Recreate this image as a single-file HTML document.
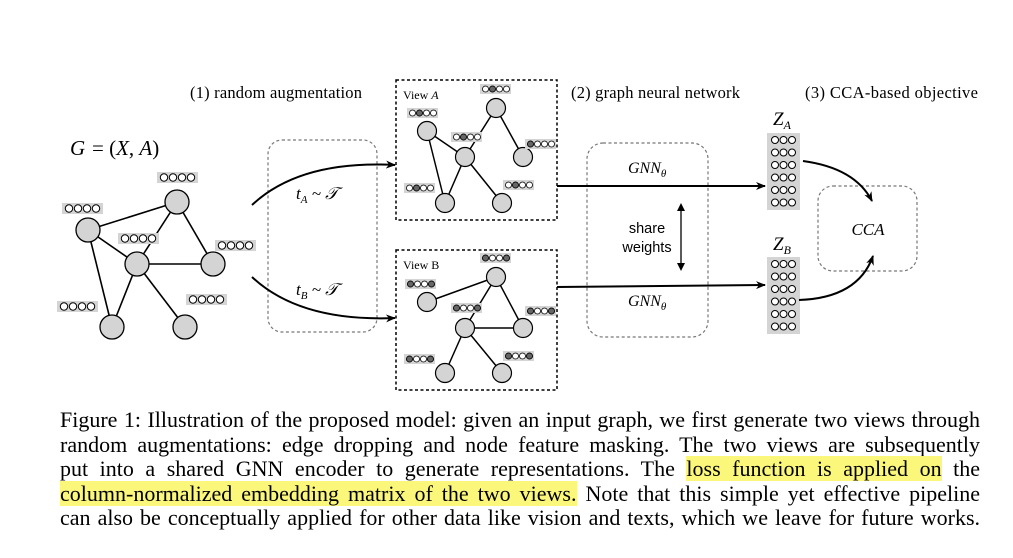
<!DOCTYPE html>
<html><head><meta charset="utf-8"><style>
body{margin:0;background:#fff;width:1013px;height:558px;overflow:hidden;position:relative}
svg{position:absolute;left:0;top:0}
.cap{position:absolute;left:60px;top:408px;width:920px;font-family:"Liberation Serif",serif;font-size:22px;line-height:24.5px;color:#000}
.cap div{text-align:justify;text-align-last:justify;white-space:nowrap}
.hl{background:#fbf77a}
</style></head><body>
<svg width="1013" height="558" viewBox="0 0 1013 558" font-family="Liberation Serif, serif">
<defs>
<g id="lab"><rect x="0" y="0" width="41" height="11" fill="#d4d4d4"/><g fill="#fff" stroke="#000" stroke-width="1"><circle cx="7" cy="5.5" r="3.7"/><circle cx="16" cy="5.5" r="3.7"/><circle cx="25" cy="5.5" r="3.7"/><circle cx="34" cy="5.5" r="3.7"/></g></g>
<g id="sl"><rect x="0" y="0" width="31" height="10" fill="#d4d4d4"/><g fill="#fff" stroke="#000" stroke-width="0.8"><circle cx="5.5" cy="5" r="3"/><circle cx="12.5" cy="5" r="3"/><circle cx="19.5" cy="5" r="3"/><circle cx="26.5" cy="5" r="3"/></g></g>
<g id="mat"><rect x="0" y="0" width="33" height="77" fill="#d4d4d4"/><g fill="#fff" stroke="#000" stroke-width="1">
<circle cx="8" cy="7" r="3.5"/><circle cx="16.5" cy="7" r="3.5"/><circle cx="25" cy="7" r="3.5"/>
<circle cx="8" cy="19.5" r="3.5"/><circle cx="16.5" cy="19.5" r="3.5"/><circle cx="25" cy="19.5" r="3.5"/>
<circle cx="8" cy="32" r="3.5"/><circle cx="16.5" cy="32" r="3.5"/><circle cx="25" cy="32" r="3.5"/>
<circle cx="8" cy="44.5" r="3.5"/><circle cx="16.5" cy="44.5" r="3.5"/><circle cx="25" cy="44.5" r="3.5"/>
<circle cx="8" cy="57" r="3.5"/><circle cx="16.5" cy="57" r="3.5"/><circle cx="25" cy="57" r="3.5"/>
<circle cx="8" cy="69.5" r="3.5"/><circle cx="16.5" cy="69.5" r="3.5"/><circle cx="25" cy="69.5" r="3.5"/></g></g>
<marker id="ah" markerWidth="10" markerHeight="8" refX="9" refY="4" orient="auto" markerUnits="userSpaceOnUse"><path d="M0,0 L10,4 L0,8 L3,4 z" fill="#000"/></marker>
</defs>

<g font-size="16.5" fill="#000">
<text x="190" y="98" textLength="172">(1) random augmentation</text>
<text x="571" y="98" textLength="169">(2) graph neural network</text>
<text x="805" y="98" textLength="173">(3) CCA-based objective</text>
</g>
<text x="70" y="155" font-size="21" font-style="italic">G</text><text x="92" y="155" font-size="21">= (<tspan font-style="italic">X</tspan>, <tspan font-style="italic">A</tspan>)</text>

<g stroke="#000" stroke-width="1.6">
<line x1="88" y1="230" x2="177" y2="202"/><line x1="88" y1="230" x2="137" y2="264"/><line x1="88" y1="230" x2="112" y2="327"/>
<line x1="177" y1="202" x2="137" y2="264"/><line x1="177" y1="202" x2="213" y2="264"/><line x1="137" y1="264" x2="213" y2="264"/>
<line x1="137" y1="264" x2="112" y2="327"/><line x1="137" y1="264" x2="185" y2="327"/>
</g>
<g fill="#d4d4d4" stroke="#000" stroke-width="1.3">
<circle cx="88" cy="230" r="12"/><circle cx="177" cy="202" r="12"/><circle cx="137" cy="264" r="12"/><circle cx="213" cy="264" r="12"/><circle cx="112" cy="327" r="12"/><circle cx="185" cy="327" r="12"/>
</g>
<use href="#lab" x="62" y="203"/><use href="#lab" x="157" y="172"/><use href="#lab" x="118" y="233"/><use href="#lab" x="215" y="240"/><use href="#lab" x="57" y="301"/><use href="#lab" x="186" y="294"/>

<rect x="268" y="140" width="109" height="192" rx="14" fill="none" stroke="#777" stroke-width="1.2" stroke-dasharray="3,2.5"/>
<path d="M252,205 Q300,160 395,165" fill="none" stroke="#000" stroke-width="2" marker-end="url(#ah)"/>
<path d="M252,277 Q300,322 395,318" fill="none" stroke="#000" stroke-width="2" marker-end="url(#ah)"/>
<text x="296" y="199" font-size="17" font-style="italic">t<tspan font-size="11" dy="4">A</tspan><tspan dy="-4"> ~ 𝒯</tspan></text>
<text x="296" y="295" font-size="17" font-style="italic">t<tspan font-size="11" dy="4">B</tspan><tspan dy="-4"> ~ 𝒯</tspan></text>

<rect x="396" y="80" width="161" height="140" fill="none" stroke="#000" stroke-width="1.5" stroke-dasharray="3,2.5"/>
<text x="403" y="99" font-size="12">View <tspan font-style="italic">A</tspan></text>
<g stroke="#000" stroke-width="1.5">
<line x1="496" y1="108" x2="465" y2="157"/><line x1="496" y1="108" x2="523" y2="157"/><line x1="427" y1="131" x2="465" y2="157"/><line x1="427" y1="131" x2="445" y2="203"/><line x1="465" y1="157" x2="445" y2="203"/><line x1="465" y1="157" x2="502" y2="203"/>
</g>
<g fill="#d4d4d4" stroke="#000" stroke-width="1.2">
<circle cx="496" cy="108" r="9.5"/><circle cx="427" cy="131" r="9.5"/><circle cx="465" cy="157" r="9.5"/><circle cx="523" cy="157" r="9.5"/><circle cx="445" cy="203" r="9.5"/><circle cx="502" cy="203" r="9.5"/>
</g>
<use href="#sl" x="480" y="84"/><use href="#sl" x="407" y="108"/><use href="#sl" x="451" y="132"/><use href="#sl" x="525" y="139"/><use href="#sl" x="404" y="183"/><use href="#sl" x="503" y="180"/>
<g fill="#666" stroke="#000" stroke-width="0.8">
<circle cx="492.5" cy="89" r="3"/><circle cx="419.5" cy="113" r="3"/><circle cx="463.5" cy="137" r="3"/><circle cx="530.5" cy="144" r="3"/><circle cx="416.5" cy="188" r="3"/><circle cx="515.5" cy="185" r="3"/>
</g>

<rect x="396" y="250" width="161" height="140" fill="none" stroke="#000" stroke-width="1.5" stroke-dasharray="3,2.5"/>
<text x="403" y="269" font-size="12">View B</text>
<g stroke="#000" stroke-width="1.5">
<line x1="496" y1="277" x2="427" y2="302"/><line x1="496" y1="277" x2="465" y2="328"/><line x1="496" y1="277" x2="523" y2="328"/><line x1="465" y1="328" x2="523" y2="328"/><line x1="465" y1="328" x2="445" y2="373"/><line x1="465" y1="328" x2="502" y2="373"/>
</g>
<g fill="#d4d4d4" stroke="#000" stroke-width="1.2">
<circle cx="496" cy="277" r="9.5"/><circle cx="427" cy="302" r="9.5"/><circle cx="465" cy="328" r="9.5"/><circle cx="523" cy="328" r="9.5"/><circle cx="445" cy="373" r="9.5"/><circle cx="502" cy="373" r="9.5"/>
</g>
<use href="#sl" x="480" y="253"/><use href="#sl" x="405" y="279"/><use href="#sl" x="451" y="303"/><use href="#sl" x="525" y="306"/><use href="#sl" x="404" y="354"/><use href="#sl" x="503" y="351"/>
<g fill="#666" stroke="#000" stroke-width="0.8">
<circle cx="485.5" cy="258" r="3"/><circle cx="506.5" cy="258" r="3"/>
<circle cx="410.5" cy="284" r="3"/><circle cx="431.5" cy="284" r="3"/>
<circle cx="456.5" cy="308" r="3"/><circle cx="477.5" cy="308" r="3"/>
<circle cx="530.5" cy="311" r="3"/><circle cx="551.5" cy="311" r="3"/>
<circle cx="409.5" cy="359" r="3"/><circle cx="430.5" cy="359" r="3"/>
<circle cx="508.5" cy="356" r="3"/><circle cx="529.5" cy="356" r="3"/>
</g>

<rect x="587" y="143" width="121" height="194" rx="16" fill="none" stroke="#777" stroke-width="1.2" stroke-dasharray="3,2.5"/>
<line x1="557" y1="186" x2="765" y2="186" stroke="#000" stroke-width="2" marker-end="url(#ah)"/>
<line x1="557" y1="287" x2="765" y2="285" stroke="#000" stroke-width="2" marker-end="url(#ah)"/>
<text x="628" y="173" font-size="16" font-style="italic">GNN<tspan font-size="11" dy="4">θ</tspan></text>
<text x="628" y="306" font-size="16" font-style="italic">GNN<tspan font-size="11" dy="4">θ</tspan></text>
<text x="647" y="233" font-size="14.5" text-anchor="middle" font-family="Liberation Sans, sans-serif">share</text>
<text x="647" y="252" font-size="14.5" text-anchor="middle" font-family="Liberation Sans, sans-serif">weights</text>
<line x1="681" y1="210" x2="681" y2="264" stroke="#000" stroke-width="1.3"/>
<path d="M677,211 L681,203 L685,211 z M677,263 L681,271 L685,263 z" fill="#000"/>

<text x="773" y="125" font-size="19" font-style="italic">Z<tspan font-size="12" dy="4">A</tspan></text>
<text x="773" y="250" font-size="19" font-style="italic">Z<tspan font-size="12" dy="4">B</tspan></text>
<use href="#mat" x="767" y="133"/><use href="#mat" x="767" y="257"/>

<rect x="818" y="186" width="99" height="85" rx="15" fill="none" stroke="#777" stroke-width="1.2" stroke-dasharray="3,2.5"/>
<text x="868" y="235" font-size="17" font-style="italic" text-anchor="middle">CCA</text>
<path d="M803,161 Q855,168 872,201" fill="none" stroke="#000" stroke-width="2" marker-end="url(#ah)"/>
<path d="M799,300 Q858,298 873,256" fill="none" stroke="#000" stroke-width="2" marker-end="url(#ah)"/>
</svg>
<div class="cap">
<div>Figure 1: Illustration of the proposed model: given an input graph, we first generate two views through</div>
<div>random augmentations: edge dropping and node feature masking. The two views are subsequently</div>
<div>put into a shared GNN encoder to generate representations. The <span class="hl">loss function is applied on</span> the</div>
<div><span class="hl">column-normalized embedding matrix of the two views.</span> Note that this simple yet effective pipeline</div>
<div>can also be conceptually applied for other data like vision and texts, which we leave for future works.</div>
</div>
</body></html>
